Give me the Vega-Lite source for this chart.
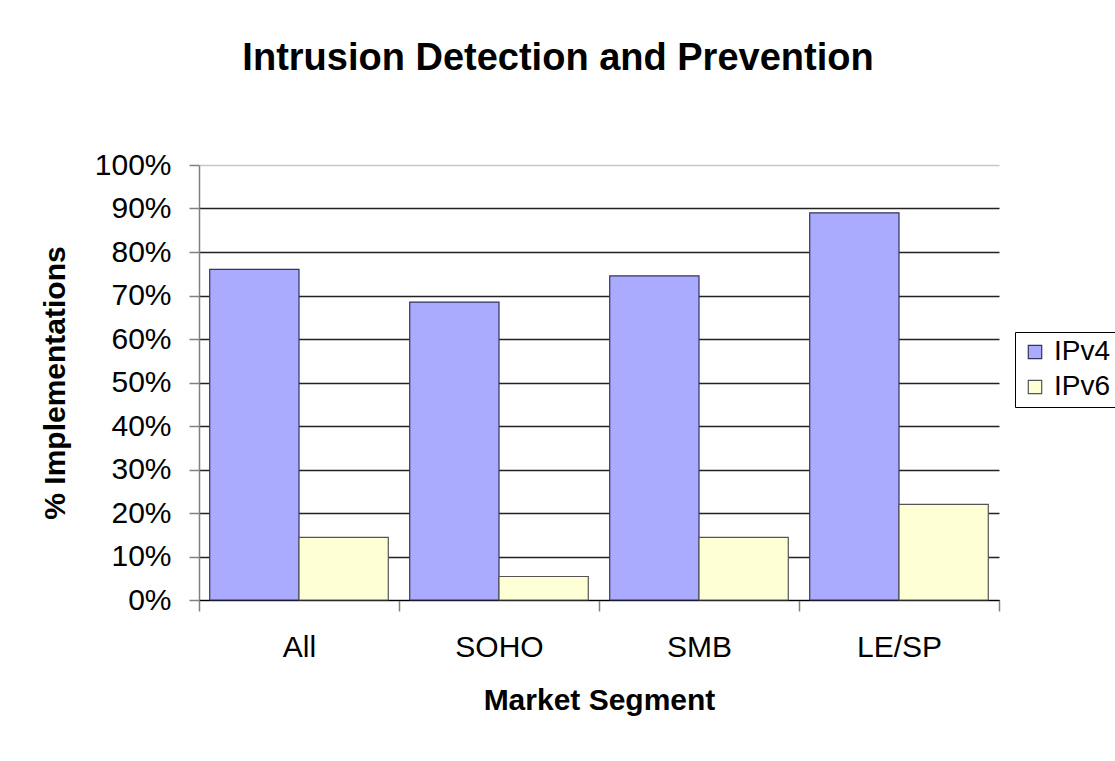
{
  "$schema": "https://vega.github.io/schema/vega-lite/v6.json",
  "width": 800,
  "height": 435,
  "autosize": {"type": "none"},
  "padding": {"left": 199, "top": 165, "right": 116, "bottom": 161},
  "background": "white",
  "config": {"view": {"stroke": null}, "font": "Liberation Sans"},
  "title": {"text": "Intrusion Detection and Prevention", "fontSize": 38, "font": "Liberation Sans", "fontWeight": "bold", "color": "#000", "anchor": "middle", "dx": -41, "offset": 72},
  "data": {"values": [
    {"segment": "All", "protocol": "IPv4", "pct": 0.76},
    {"segment": "All", "protocol": "IPv6", "pct": 0.144},
    {"segment": "SOHO", "protocol": "IPv4", "pct": 0.685},
    {"segment": "SOHO", "protocol": "IPv6", "pct": 0.054},
    {"segment": "SMB", "protocol": "IPv4", "pct": 0.745},
    {"segment": "SMB", "protocol": "IPv6", "pct": 0.144},
    {"segment": "LE/SP", "protocol": "IPv4", "pct": 0.89},
    {"segment": "LE/SP", "protocol": "IPv6", "pct": 0.22}
  ]},
  "mark": {"type": "bar", "strokeWidth": 1.2},
  "encoding": {
    "x": {"field": "segment", "type": "nominal", "sort": ["All", "SOHO", "SMB", "LE/SP"],
      "scale": {"paddingInner": 0, "paddingOuter": 0},
      "axis": {"title": "Market Segment", "labelAngle": 0, "grid": false, "domainColor": "#000", "domainWidth": 1.2, "tickColor": "#808080", "tickWidth": 1.5, "tickSize": 11, "tickBand": "extent", "labelFontSize": 30, "labelColor": "#000", "labelPadding": 21, "titleFontSize": 30, "titleFontWeight": "bold", "titleColor": "#000", "titlePadding": 23}},
    "xOffset": {"field": "protocol", "type": "nominal", "sort": ["IPv4", "IPv6"], "scale": {"paddingInner": 0, "paddingOuter": 0.12}},
    "y": {"field": "pct", "type": "quantitative", "scale": {"domain": [0, 1]},
      "axis": {"title": "% Implementations", "format": ".0%", "values": [0, 0.1, 0.2, 0.3, 0.4, 0.5, 0.6, 0.7, 0.8, 0.9, 1], "grid": true,
        "gridColor": {"condition": {"test": "datum.value === 1", "value": "#c8c8c8"}, "value": "#222"}, "gridWidth": 1.3,
        "domainColor": "#808080", "domainWidth": 1.5, "tickColor": "#808080", "tickWidth": 1.5, "tickSize": 10,
        "labelFontSize": 30, "labelColor": "#000", "labelPadding": 18, "titleFontSize": 30, "titleFontWeight": "bold", "titleColor": "#000", "titlePadding": 24}},
    "color": {"field": "protocol", "type": "nominal", "scale": {"domain": ["IPv4", "IPv6"], "range": ["#AAAAFF", "#FFFFD5"]},
      "legend": {"orient": "none", "legendX": 816, "legendY": 167, "title": null, "strokeColor": "#000", "fillColor": "#fff", "padding": 6, "rowPadding": 7, "labelFontSize": 28, "labelColor": "#000", "symbolType": "square", "symbolSize": 180, "symbolStrokeColor": "#333", "symbolStrokeWidth": 1.2, "labelOffset": 5}},
    "stroke": {"field": "protocol", "type": "nominal", "scale": {"domain": ["IPv4", "IPv6"], "range": ["#33335f", "#555555"]}, "legend": null}
  }
}
